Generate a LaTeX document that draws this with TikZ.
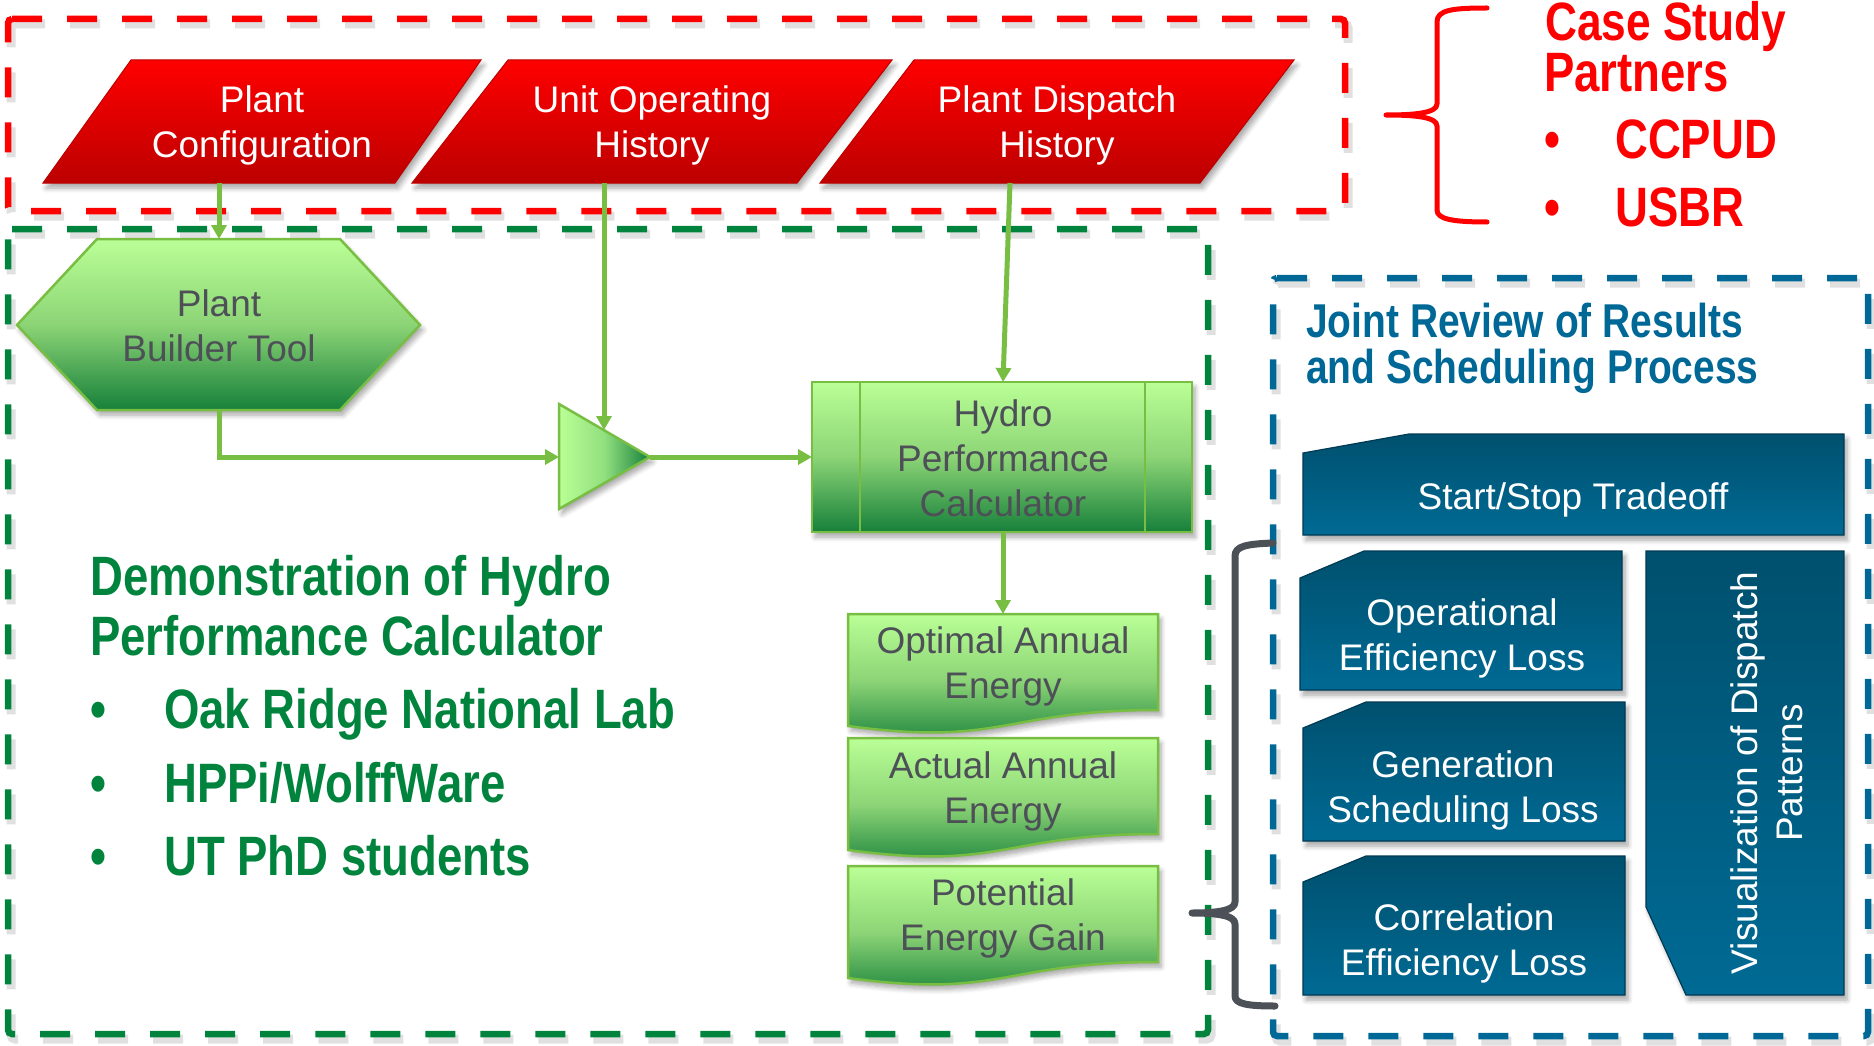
\documentclass[tikz,border=0pt]{standalone}
\usepackage{fontspec}
\setmainfont{Liberation Sans}
\newfontfamily\narrowsans{Liberation Sans}[FakeStretch=0.82]
\usetikzlibrary{arrows.meta,shadows.blur}

\definecolor{redline}{RGB}{255,0,0}
\definecolor{redtop}{RGB}{255,0,0}
\definecolor{redbot}{RGB}{188,0,0}
\definecolor{darkgreen}{RGB}{0,132,61}
\definecolor{linkgreen}{RGB}{120,190,67}
\definecolor{lightgreen}{RGB}{186,255,150}
\definecolor{midgreen}{RGB}{140,212,118}
\definecolor{deepgreen}{RGB}{22,128,58}
\definecolor{labelgrey}{RGB}{78,80,88}
\definecolor{bluedash}{RGB}{0,104,150}
\definecolor{bluetop}{RGB}{0,80,110}
\definecolor{bluebot}{RGB}{0,106,148}
\definecolor{blueedge}{RGB}{0,58,84}
\definecolor{bracegrey}{RGB}{76,80,87}

% centred multi-line label whose baseline is that of its first line
\newcommand\mlines[1]{\begin{tabular}[t]{@{}c@{}}#1\end{tabular}}

\begin{document}
\begin{tikzpicture}[x=1pt,y=-1pt,
  shadowed/.style={blur shadow={shadow xshift=3pt,shadow yshift=-5pt,
      shadow blur radius=5pt,shadow blur steps=6,shadow opacity=35}},
  dashbox/.style={line width=6.5pt,dash pattern=on 30pt off 25pt,rounded corners=4pt},
  dashshade/.style={dashbox,line width=9pt,draw=black,opacity=.12,xshift=3pt,yshift=-5pt},
  redpara/.style={top color=redtop,bottom color=redbot,draw=redbot,line width=1pt,shadowed},
  greenshape/.style={top color=lightgreen,bottom color=deepgreen,middle color=midgreen,
      draw=linkgreen,line width=2.5pt,shadowed},
  bluebox/.style={top color=bluetop,bottom color=bluebot,draw=blueedge,line width=1.2pt,shadowed},
  link/.style={draw=linkgreen,line width=5pt,-{Triangle[length=14pt,width=15pt]}},
  lbl/.style={inner sep=0pt,anchor=base,font=\fontsize{37}{45}\selectfont},
  whitelbl/.style={lbl,text=white},
  greylbl/.style={lbl,text=labelgrey},
  bigtext/.style={inner sep=0pt,anchor=base west,font=\narrowsans\bfseries\fontsize{55.5}{60}\selectfont},
  titletext/.style={inner sep=0pt,anchor=base west,text=bluedash,
      font=\narrowsans\bfseries\fontsize{47.5}{50}\selectfont},
  brace/.style={line cap=round,line join=round}
]
\useasboundingbox (0,0) rectangle (1874,1046);

% ---- dashed group frames ----
\draw[dashshade] (8,19) -- (1345,19) -- (1345,211) -- (8,211) -- cycle;
\draw[dashbox,redline] (8,19) -- (1345,19) -- (1345,211) -- (8,211) -- cycle;
\draw[dashshade] (8,229) -- (1208,229) -- (1208,1034) -- (8,1034) -- cycle;
\draw[dashbox,darkgreen] (8,229) -- (1208,229) -- (1208,1034) -- (8,1034) -- cycle;
\draw[dashshade] (1273,278) -- (1868,278) -- (1868,1036) -- (1273,1036) -- cycle;
\draw[dashbox,bluedash] (1273,278) -- (1868,278) -- (1868,1036) -- (1273,1036) -- cycle;

% ---- input data (parallelograms) ----
\path[redpara] (43,183) -- (395,183) -- (481,60) -- (131,60) -- cycle;
\path[redpara] (412,183) -- (797,183) -- (892,60) -- (508,60) -- cycle;
\path[redpara] (820,183) -- (1200,183) -- (1294,60) -- (914,60) -- cycle;

% ---- green process shapes ----
\path[greenshape] (17,325) -- (97,239) -- (340,239) -- (420,325) -- (340,410) -- (97,410) -- cycle;
\path[left color=lightgreen,right color=deepgreen,middle color=lightgreen!75!deepgreen,
      draw=linkgreen,line width=2.5pt,shadowed] (559,404) -- (650,457) -- (559,509) -- cycle;
\path[greenshape] (812,382) rectangle (1192,532);
\draw[linkgreen,line width=2pt] (860,382) -- (860,532) (1145,382) -- (1145,532);
\foreach \t in {614,738,866}{
  \path[greenshape] (848,\t) -- (1158,\t) -- (1158,\t+96)
     .. controls (1003,\t+96) and (1003,\t+133) .. (848,\t+112) -- cycle;
}

% ---- review items (blue) ----
\path[bluebox] (1303,453) -- (1409,434) -- (1844,434) -- (1844,535) -- (1303,535) -- cycle;
\path[bluebox] (1300,578) -- (1364,551) -- (1622,551) -- (1622,690) -- (1300,690) -- cycle;
\path[bluebox] (1303,728) -- (1366,702) -- (1625,702) -- (1625,841) -- (1303,841) -- cycle;
\path[bluebox] (1303,882) -- (1366,856) -- (1625,856) -- (1625,995) -- (1303,995) -- cycle;
\path[bluebox] (1646,551) -- (1844,551) -- (1844,995) -- (1686,995) -- (1646,907) -- cycle;

% ---- braces ----
\draw[brace,redline,line width=5pt] (1487,8) .. controls (1452,8) and (1437,10) .. (1437,22)
  -- (1437,104) .. controls (1437,113) and (1415,115) .. (1386,115)
  .. controls (1415,115) and (1437,117) .. (1437,126)
  -- (1437,210) .. controls (1437,219) and (1452,222) .. (1487,222);
\draw[brace,bracegrey,line width=7pt] (1273,543) .. controls (1247,544) and (1235,546) .. (1235,556)
  -- (1235,902) .. controls (1235,910) and (1220,913) .. (1192,913)
  .. controls (1220,913) and (1235,916) .. (1235,924)
  -- (1235,996) .. controls (1235,1004) and (1248,1006) .. (1275,1006);

% ---- labels ----
\node[whitelbl] (cfg) at (262,113) {\mlines{Plant\\Configuration}};
\node[whitelbl] (uoh) at (652,113) {\mlines{Unit Operating\\History}};
\node[whitelbl] (pdh) at (1057,113) {\mlines{Plant Dispatch\\History}};
\node[greylbl] (pbt) at (219,316) {\mlines{Plant\\Builder Tool}};
\node[greylbl] (hpc) at (1003,426) {\mlines{Hydro\\Performance\\Calculator}};
\node[greylbl] (oae) at (1003,653) {\mlines{Optimal Annual\\Energy}};
\node[greylbl] (aae) at (1003,778) {\mlines{Actual Annual\\Energy}};
\node[greylbl] (peg) at (1003,905) {\mlines{Potential\\Energy Gain}};
\node[whitelbl] (sst) at (1573,509) {Start/Stop Tradeoff};
\node[whitelbl] (oel) at (1462,625) {\mlines{Operational\\Efficiency Loss}};
\node[whitelbl] (gsl) at (1463,777) {\mlines{Generation\\Scheduling Loss}};
\node[whitelbl] (cel) at (1464,930) {\mlines{Correlation\\Efficiency Loss}};
\node[whitelbl,rotate=90] (vdp) at (1757,773) {\mlines{Visualization of Dispatch\\Patterns}};

% ---- connector end points ----
\coordinate (cfg-out) at (219,183);
\coordinate (pbt-in) at (219,239);
\coordinate (pbt-out) at (219,410);
\coordinate (uoh-out) at (604,183);
\coordinate (mix-top) at (604,430);
\coordinate (mix-in) at (559,457);
\coordinate (mix-out) at (650,457);
\coordinate (pdh-out) at (1010,183);
\coordinate (hpc-top) at (1003,382);
\coordinate (hpc-in) at (812,457);
\coordinate (hpc-out) at (1003,532);
\coordinate (oae-in) at (1003,614);

\draw[link] (cfg-out) -- (pbt-in);
\draw[link] (pbt-out) |- (mix-in);
\draw[link] (uoh-out) -- (mix-top);
\draw[link] (mix-out) -- (hpc-in);
\draw[link] (pdh-out) -- (hpc-top);
\draw[link] (hpc-out) -- (oae-in);

% ---- headings and lists ----
\node[bigtext,text=redline,font=\narrowsans\bfseries\fontsize{54}{60}\selectfont] (cs1) at (1545,41) {Case Study};
\node[bigtext,text=redline] (cs2) at (1544,92) {Partners};
\node[bigtext,text=redline] (cs3) at (1544,158) {\makebox[71pt][l]{•}CCPUD};
\node[bigtext,text=redline] (cs4) at (1544,226) {\makebox[71pt][l]{•}USBR};

\node[bigtext,text=darkgreen] (dm1) at (90,595) {Demonstration of Hydro};
\node[bigtext,text=darkgreen] (dm2) at (90,655) {Performance Calculator};
\node[bigtext,text=darkgreen] (dm3) at (90,728) {\makebox[74pt][l]{•}Oak Ridge National Lab};
\node[bigtext,text=darkgreen] (dm4) at (90,802) {\makebox[74pt][l]{•}HPPi/WolffWare};
\node[bigtext,text=darkgreen] (dm5) at (90,875) {\makebox[74pt][l]{•}UT PhD students};

\node[titletext] (jr1) at (1306,337) {Joint Review of Results};
\node[titletext] (jr2) at (1306,383) {and Scheduling Process};
\end{tikzpicture}
\end{document}
